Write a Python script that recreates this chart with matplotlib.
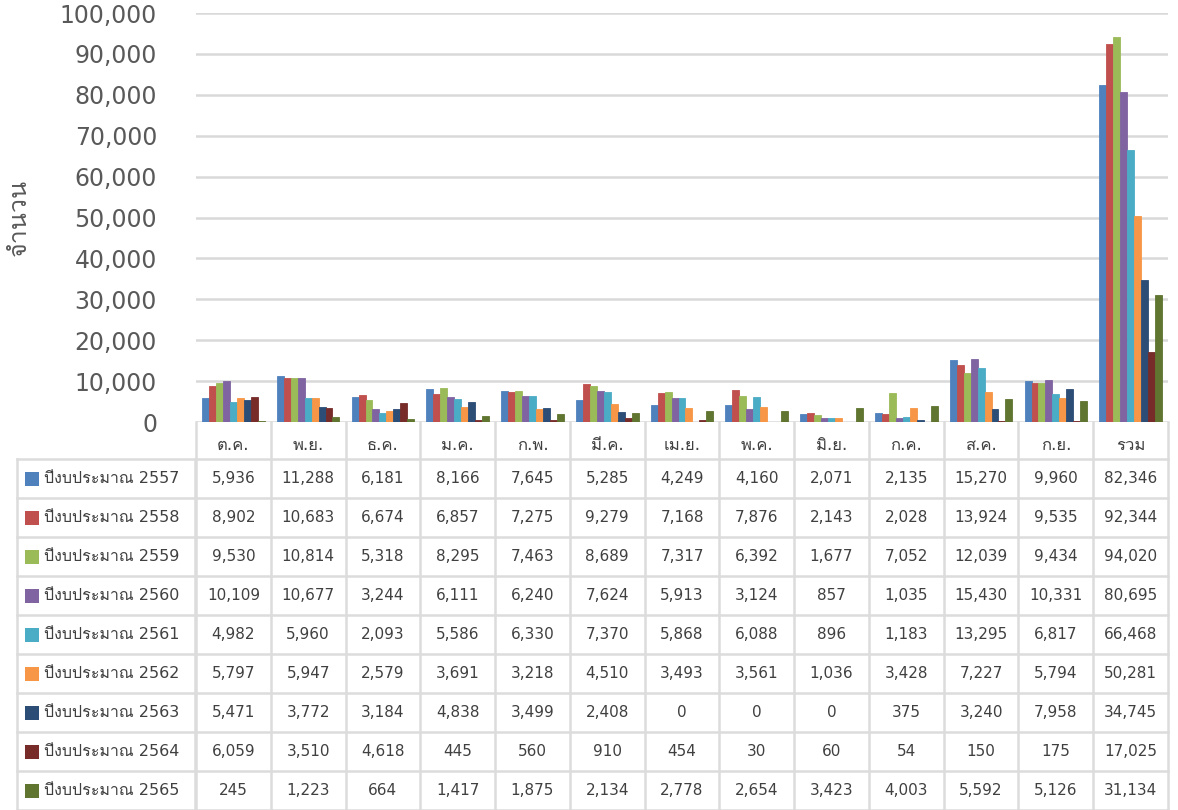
import numpy as np
import matplotlib.pyplot as plt
import matplotlib.transforms as mtransforms
from matplotlib.patches import Rectangle
from matplotlib import font_manager
from fontTools.ttLib import TTFont

# look for an installed family that has Thai glyphs
thai_fams = []
for f in font_manager.fontManager.ttflist:
    try:
        tt = TTFont(f.fname, fontNumber=0, lazy=True)
        if 0x0E01 in tt.getBestCmap() and f.name not in thai_fams:
            thai_fams.append(f.name)
    except Exception:
        pass

plt.rcParams['font.family'] = ['DejaVu Sans'] + thai_fams

months = ["ต.ค.", "พ.ย.", "ธ.ค.", "ม.ค.", "ก.พ.", "มี.ค.", "เม.ย.", "พ.ค.",
          "มิ.ย.", "ก.ค.", "ส.ค.", "ก.ย.", "รวม"]
series_names = ["ปีงบประมาณ 2557", "ปีงบประมาณ 2558", "ปีงบประมาณ 2559",
                "ปีงบประมาณ 2560", "ปีงบประมาณ 2561", "ปีงบประมาณ 2562",
                "ปีงบประมาณ 2563", "ปีงบประมาณ 2564", "ปีงบประมาณ 2565"]
y2557 = [5936, 11288, 6181, 8166, 7645, 5285, 4249, 4160, 2071, 2135, 15270, 9960, 82346]
y2558 = [8902, 10683, 6674, 6857, 7275, 9279, 7168, 7876, 2143, 2028, 13924, 9535, 92344]
y2559 = [9530, 10814, 5318, 8295, 7463, 8689, 7317, 6392, 1677, 7052, 12039, 9434, 94020]
y2560 = [10109, 10677, 3244, 6111, 6240, 7624, 5913, 3124, 857, 1035, 15430, 10331, 80695]
y2561 = [4982, 5960, 2093, 5586, 6330, 7370, 5868, 6088, 896, 1183, 13295, 6817, 66468]
y2562 = [5797, 5947, 2579, 3691, 3218, 4510, 3493, 3561, 1036, 3428, 7227, 5794, 50281]
y2563 = [5471, 3772, 3184, 4838, 3499, 2408, 0, 0, 0, 375, 3240, 7958, 34745]
y2564 = [6059, 3510, 4618, 445, 560, 910, 454, 30, 60, 54, 150, 175, 17025]
y2565 = [245, 1223, 664, 1417, 1875, 2134, 2778, 2654, 3423, 4003, 5592, 5126, 31134]
all_series = [y2557, y2558, y2559, y2560, y2561, y2562, y2563, y2564, y2565]
colors = ["#4f81bd", "#c0504d", "#9bbb59", "#8064a2", "#4bacc6",
          "#f79646", "#2c4d75", "#772c2a", "#5f7530"]

W_PX, H_PX = 1178, 810
fig = plt.figure(figsize=(W_PX / 100, H_PX / 100), dpi=100)

left, right, top, bottom = 196, 1168, 13, 422
ax = fig.add_axes([left / W_PX, 1 - bottom / H_PX,
                   (right - left) / W_PX, (bottom - top) / H_PX])

x = np.arange(len(months))
bw = 0.093
for i, (vals, c) in enumerate(zip(all_series, colors)):
    ax.bar(x + (i - 4) * bw, vals, width=bw, color=c, edgecolor=c,
           linewidth=0.6, zorder=3)

ax.set_xlim(-0.5, len(months) - 0.5)
ax.set_ylim(0, 100000)
ax.set_yticks(np.arange(0, 100001, 10000))
ax.set_yticklabels([f"{v:,}" for v in range(0, 100001, 10000)],
                   fontsize=17, color="#595959")
ax.tick_params(axis='y', length=0, pad=28)
ax.set_xticks([])
ax.grid(axis='y', color="#d9d9d9", linewidth=1.8, zorder=0)
for s in ax.spines.values():
    s.set_visible(False)
ax.set_ylabel("จำนวน", fontsize=18, color="#595959", labelpad=21)

# table below the chart
grid_c = "#dcdcdc"
trans = mtransforms.blended_transform_factory(ax.transData, fig.transFigure)


def fy(ypx):
    return 1 - ypx / H_PX


row_top = 459
row_h = 39
n_rows = len(series_names)
table_bottom = row_top + row_h * n_rows

for k in range(len(months) + 1):
    fig.add_artist(plt.Line2D([k - 0.5, k - 0.5], [fy(bottom), fy(table_bottom)],
                              transform=trans, color=grid_c, linewidth=1.8))
for xp in (17, left - 1):
    fig.add_artist(plt.Line2D([xp / W_PX, xp / W_PX], [fy(row_top), fy(table_bottom)],
                              transform=fig.transFigure, color=grid_c, linewidth=1.8))
for r in range(n_rows + 1):
    yy = fy(row_top + r * row_h)
    fig.add_artist(plt.Line2D([17 / W_PX, right / W_PX], [yy, yy],
                              transform=fig.transFigure, color=grid_c, linewidth=1.8))

for k, m in enumerate(months):
    fig.text(k, fy(445), m, transform=trans, ha='center', va='center',
             fontsize=12, color="#404040")

for r, (name, vals, c) in enumerate(zip(series_names, all_series, colors)):
    yc = fy(row_top + row_h * (r + 0.5))
    fig.add_artist(Rectangle((25 / W_PX, yc - 7 / H_PX), 14 / W_PX, 14 / H_PX,
                             transform=fig.transFigure, facecolor=c, edgecolor='none'))
    fig.text(44 / W_PX, yc, name, ha='left', va='center', fontsize=11.5, color="#404040")
    for k, v in enumerate(vals):
        fig.text(k, yc, f"{v:,}", transform=trans, ha='center', va='center',
                 fontsize=11, color="#404040")

fig.savefig("out.png", dpi=100)
